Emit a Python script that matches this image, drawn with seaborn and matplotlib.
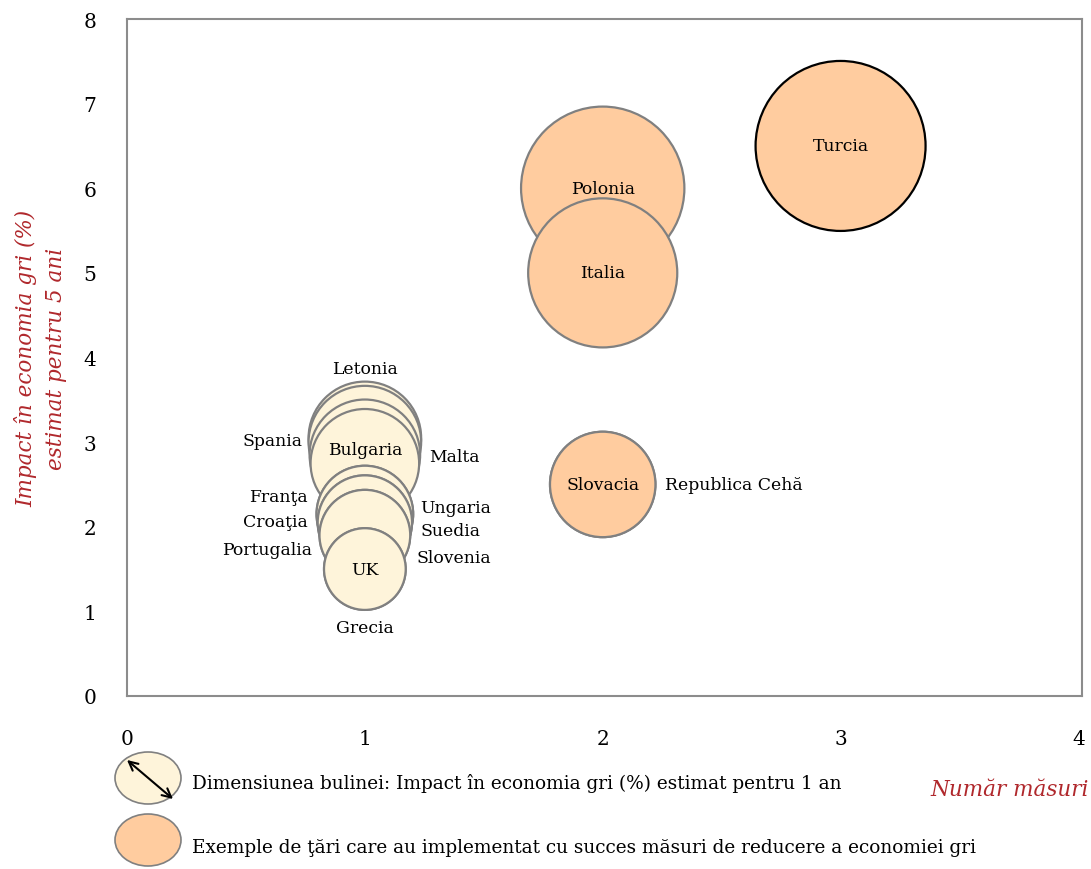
import matplotlib
matplotlib.use("Agg")
import matplotlib.pyplot as plt
from matplotlib.patches import Ellipse, FancyArrowPatch
import pandas as pd
import seaborn as sns

# date
tari = ["Turcia", "Polonia", "Italia", "Slovacia", "Republica Cehă",
        "Letonia", "Spania", "Bulgaria", "Malta",
        "Franţa", "Ungaria", "Croaţia", "Suedia", "Portugalia", "Slovenia",
        "UK", "Grecia"]
numar_masuri = [3, 2, 2, 2, 2,
                1, 1, 1, 1,
                1, 1, 1, 1, 1, 1,
                1, 1]
impact_5_ani = [6.5, 6.0, 5.0, 2.5, 2.5,
                3.05, 3.0, 2.85, 2.75,
                2.15, 2.15, 2.05, 2.05, 1.9, 1.9,
                1.5, 1.5]
impact_1_an = [1.3, 1.2, 1.0, 0.5, 0.5,
               0.57, 0.57, 0.55, 0.53,
               0.42, 0.42, 0.40, 0.40, 0.37, 0.37,
               0.30, 0.30]
succes = ["Turcia", "Polonia", "Italia", "Slovacia", "Republica Cehă"]

df = pd.DataFrame({"tara": tari, "masuri": numar_masuri,
                   "impact5": impact_5_ani, "impact1": impact_1_an})
df["grup"] = ["succes" if t in succes else "altele" for t in df["tara"]]
df = df.sort_values("impact1", ascending=False, kind="stable").reset_index(drop=True)

# pozitia etichetelor (offset in puncte fata de centrul bulinei)
label_pos = {
    "Letonia": (0, 50, "center"), "Spania": (-45, 1, "right"),
    "Bulgaria": (0, 4, "center"), "Malta": (46, 5, "left"),
    "Franţa": (-41, 13, "right"), "Croaţia": (-41, 1, "right"),
    "Portugalia": (-38, -10, "right"), "Ungaria": (40, 5, "left"),
    "Suedia": (40, -6, "left"), "Slovenia": (37, -16, "left"),
    "UK": (0, 0, "center"), "Grecia": (0, -42, "center"),
    "Republica Cehă": (45, 0, "left"),
}

red = "#B0282C"
cream = "#FEF4DA"
orange = "#FFCC9F"

sns.set_style("white")
plt.rcParams["font.family"] = ["DejaVu Serif"]
plt.rcParams["text.color"] = "black"

fig = plt.figure(figsize=(10.91, 8.70), dpi=100)
ax = fig.add_axes([127 / 1091, 1 - 697 / 870, 955 / 1091, 677 / 870])

k = 11524  # aria markerului (pt^2) pentru impact 1 an = 1
sns.scatterplot(data=df, x="masuri", y="impact5", hue="grup", size="impact1",
                palette={"succes": orange, "altele": cream},
                sizes=(0, k * 1.3), size_norm=(0, 1.3),
                edgecolor="#808080", linewidth=1.6, alpha=1,
                legend=False, ax=ax)
coll = ax.collections[0]
coll.set_edgecolors(["black" if t == "Turcia" else "#808080" for t in df["tara"]])

for _, r in df.iterrows():
    dx, dy, ha = label_pos.get(r["tara"], (0, 0, "center"))
    ax.annotate(r["tara"], (r["masuri"], r["impact5"]), xytext=(dx, dy),
                textcoords="offset points", ha=ha, va="center", fontsize=12.4,
                color="black")

ax.set_xlim(0, 4.015)
ax.set_ylim(0, 8)
ax.set_xticks(range(0, 5))
ax.set_yticks(range(0, 9))
ax.tick_params(axis="both", length=0, labelsize=14.5, labelcolor="black")
ax.tick_params(axis="x", pad=24)
ax.tick_params(axis="y", pad=22)
for s in ax.spines.values():
    s.set_color("#8C8C8C")
    s.set_linewidth(1.5)
ax.set_xlabel("")
ax.set_ylabel("Impact în economia gri (%)\nestimat pentru 5 ani", color=red,
              fontstyle="italic", fontsize=15.5, labelpad=12, linespacing=1.45)

fig.text(1089 / 1091, 1 - 790 / 870, "Număr măsuri", color=red, fontstyle="italic",
         fontsize=15.5, ha="right", va="center")

# legenda
W, H = 1091, 870
fig.patches.append(Ellipse((148 / W, 1 - 779 / H), 66 / W, 52 / H, transform=fig.transFigure,
                           facecolor=cream, edgecolor="#808080", linewidth=1.2))
fig.patches.append(Ellipse((148 / W, 1 - 841 / H), 66 / W, 52 / H, transform=fig.transFigure,
                           facecolor=orange, edgecolor="#808080", linewidth=1.2))
fig.add_artist(FancyArrowPatch((127 / W, 1 - 761 / H), (173 / W, 1 - 800 / H),
                               transform=fig.transFigure, arrowstyle="<->",
                               mutation_scale=16, color="black", linewidth=1.5,
                               shrinkA=0, shrinkB=0, zorder=10))
fig.text(192 / W, 1 - 784 / H, "Dimensiunea bulinei: Impact în economia gri (%) estimat pentru 1 an",
         fontsize=13.3, va="center", ha="left")
fig.text(192 / W, 1 - 848 / H, "Exemple de ţări care au implementat cu succes măsuri de reducere a economiei gri",
         fontsize=13.3, va="center", ha="left")

fig.savefig("out.png", dpi=100)
